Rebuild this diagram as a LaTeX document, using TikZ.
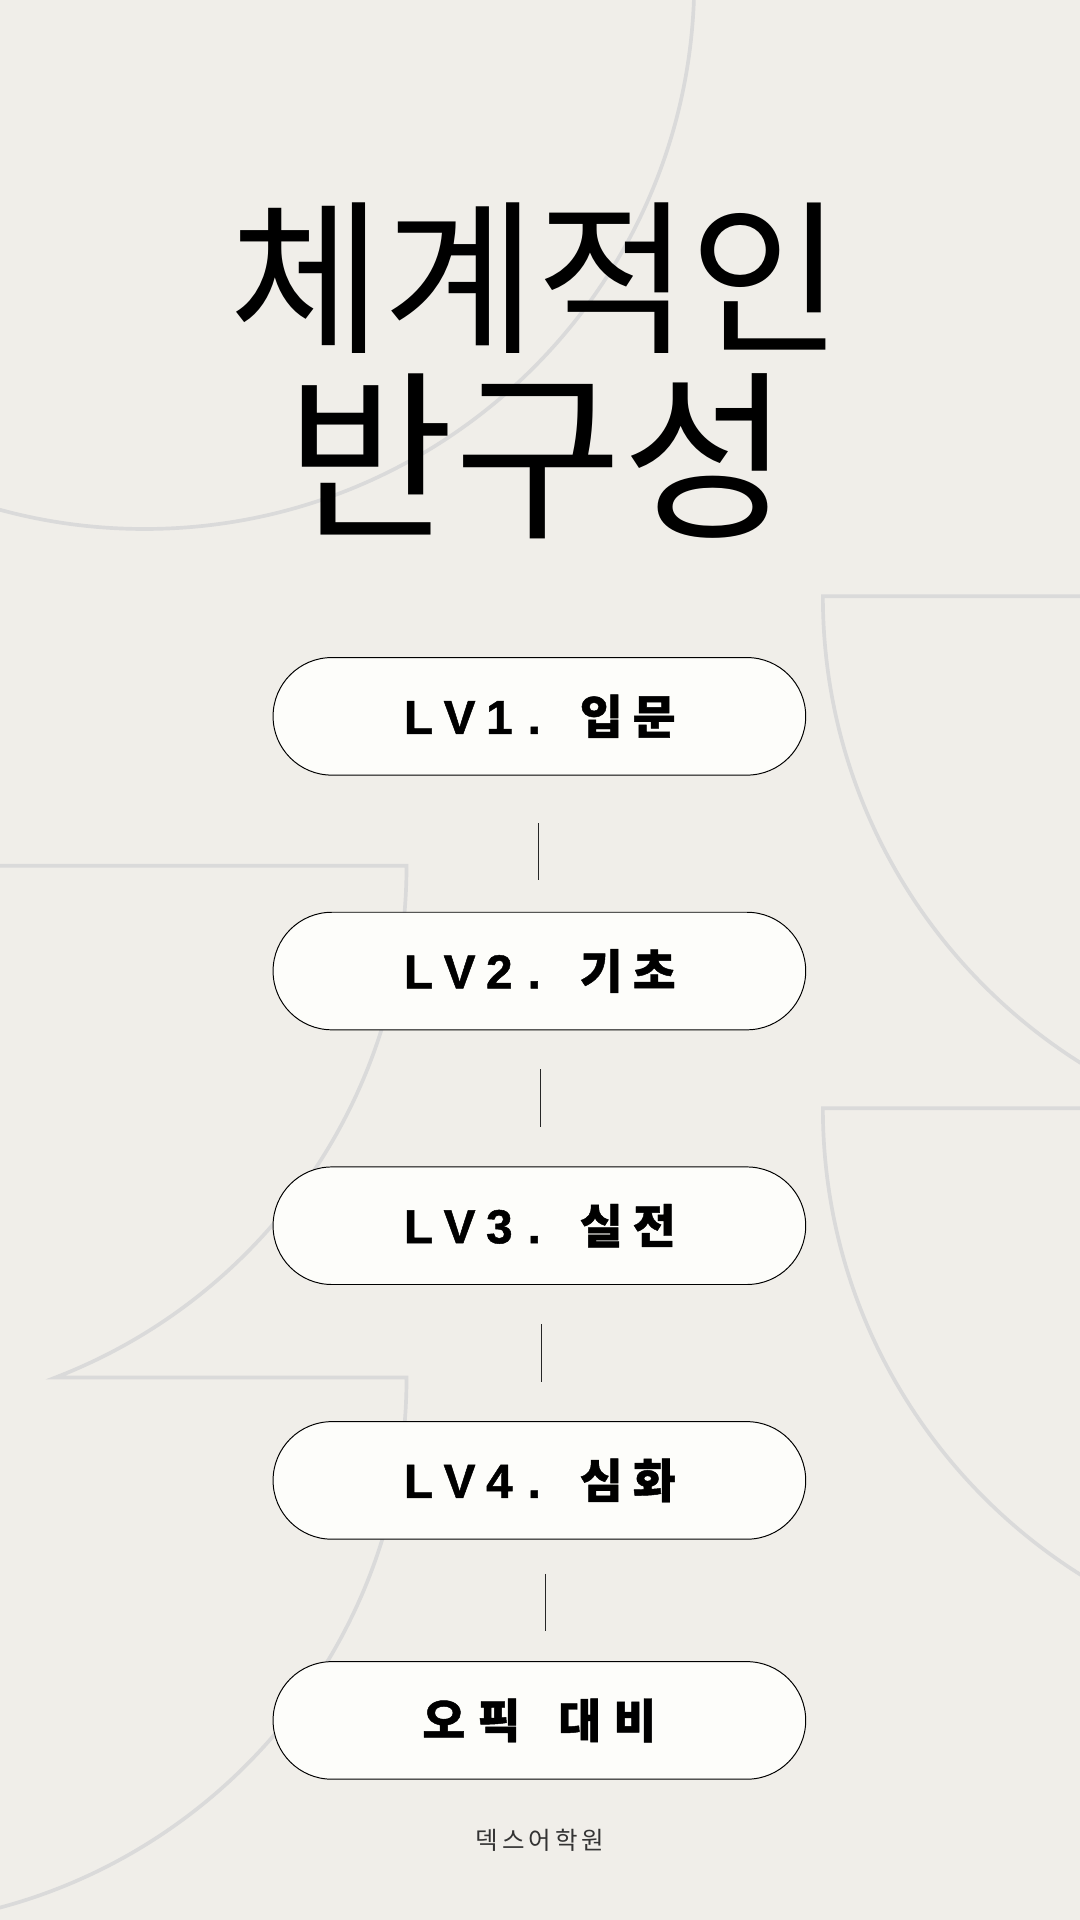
\documentclass[tikz,border=0pt]{standalone}
\usepackage{fontspec}
\newfontfamily\kr{Noto Sans CJK KR}
\newfontfamily\lat{Liberation Sans}
\newfontfamily\krh{Noto Sans CJK KR}[FakeBold=1]
\newfontfamily\lath{Liberation Sans}[FakeBold=1]
\definecolor{bgc}{HTML}{F0EEE9}
\definecolor{decoc}{HTML}{DADADA}
\definecolor{pillc}{HTML}{FDFDFA}
\definecolor{footc}{HTML}{333333}
% one character centred in a cell of given width
\newcommand\cl[2]{\makebox[#1pt]{\lath\bfseries\fontsize{39}{42}\selectfont #2}}
\newcommand\ch[2]{\makebox[#1pt]{\krh\bfseries\fontsize{38}{42}\selectfont #2}}
\newcommand\cf[1]{\makebox[21.75pt]{#1}}
\newcommand\lvtext[3]{\cl{33.5}{L}\cl{33.5}{V}\cl{31.5}{#1}\cl{25.5}{.}\hspace{20.3pt}\ch{43.3}{#2}\ch{43.3}{#3}}
\tikzset{
  deco/.style={draw=decoc, line width=3pt},
  pill/.style={draw=black, line width=0.8pt, fill=pillc, minimum width=435pt, minimum height=96pt, rounded corners=48pt, inner sep=0pt},
  conn/.style={draw=black!85, line width=0.9pt},
  titleA/.style={inner sep=0pt, font=\kr\fontsize{136}{140}\selectfont},
  titleB/.style={inner sep=0pt, font=\kr\fontsize{149}{150}\selectfont},
  foot/.style={inner sep=0pt, text=footc, font=\kr\fontsize{20}{24}\selectfont}
}
\begin{document}
\begin{tikzpicture}[x=1pt,y=-1pt]
\fill[bgc] (0,0) rectangle (882,1568);
\useasboundingbox (0,0) rectangle (882,1568);
\begin{scope}
  \clip (0,0) rectangle (882,1568);
  \draw[deco] (118,-17) circle[radius=449];
  \draw[deco] (900,487) -- (672,487) arc[start angle=180, end angle=90, radius=450];
  \draw[deco] (900,905) -- (672,905) arc[start angle=180, end angle=90, radius=450];
  \draw[deco] (-10,707) -- (332,707) arc[start angle=0, end angle=68.9, radius=448]
     -- (332,1125) arc[start angle=0, end angle=90, radius=448];
\end{scope}

\node[titleA] (t1) at (438,227) {체계적인};
\node[titleB] (t2) at (440,373) {반구성};

\node[pill] (p1) at (440.5,585) {\lvtext{1}{입}{문}};
\node[pill] (p2) at (440.5,793) {\lvtext{2}{기}{초}};
\node[pill] (p3) at (440.5,1001) {\lvtext{3}{실}{전}};
\node[pill] (p4) at (440.5,1209) {\lvtext{4}{심}{화}};
\node[pill] (p5) at (440.5,1405) {\ch{45}{오}\ch{45}{픽}\hspace{21pt}\ch{45}{대}\ch{45}{비}};

\draw[conn, shorten <=39pt, shorten >=26pt] ([xshift=-0.5pt]p1.south) -- ([xshift=-0.5pt]p2.north);
\draw[conn, shorten <=32pt, shorten >=32pt] ([xshift=1pt]p2.south) -- ([xshift=1pt]p3.north);
\draw[conn, shorten <=32pt, shorten >=32pt] ([xshift=2pt]p3.south) -- ([xshift=2pt]p4.north);
\draw[conn, shorten <=28pt, shorten >=25pt] ([xshift=5pt]p4.south) -- ([xshift=5pt]p5.north);

\node[foot] (f) at (441,1503) {\cf{덱}\cf{스}\cf{어}\cf{학}\cf{원}};
\end{tikzpicture}
\end{document}
